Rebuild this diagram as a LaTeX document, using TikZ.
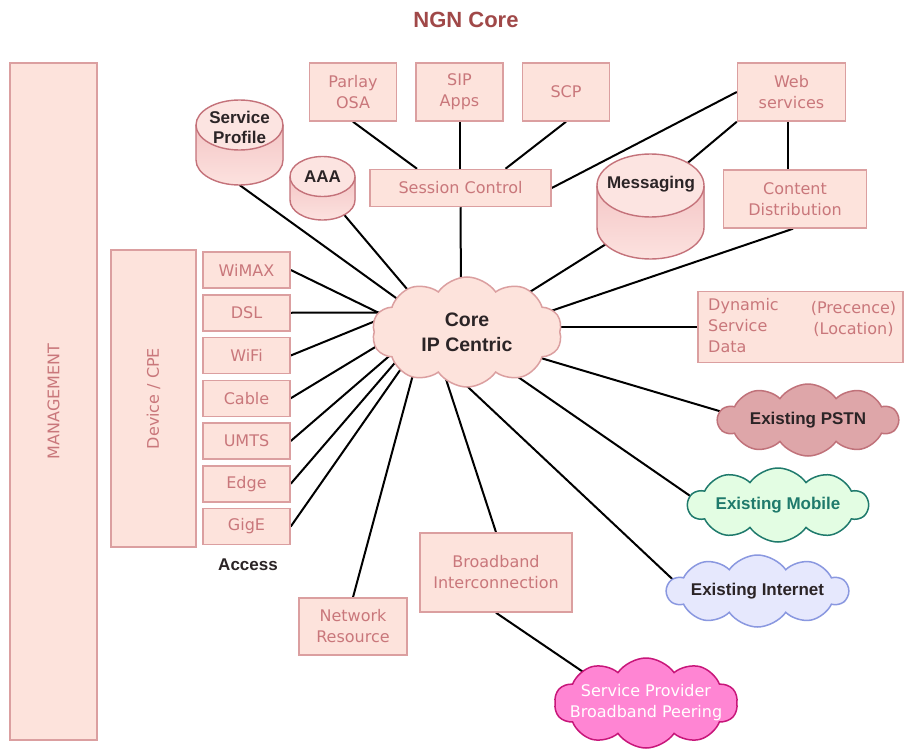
\documentclass[tikz,border=0pt]{standalone}
\usepackage{fontspec}
\setmainfont{Liberation Sans}
\newfontfamily\dvfont{DejaVu Sans}
\usetikzlibrary{shapes.symbols,calc}
\definecolor{boxfill}{HTML}{FDE3DC}
\definecolor{boxline}{HTML}{DB9FA0}
\definecolor{boxtext}{HTML}{C9777B}
\definecolor{titlecol}{HTML}{A04848}
\definecolor{cylline}{HTML}{C4727A}
\definecolor{cyltop}{HTML}{FCE4E1}
\definecolor{cylbodyA}{HTML}{F4C6C6}
\definecolor{cylbodyB}{HTML}{FCE2DF}
\definecolor{pstnfill}{HTML}{DEA6A9}
\definecolor{pstnline}{HTML}{C0727A}
\definecolor{mobfill}{HTML}{E3FDE3}
\definecolor{mobline}{HTML}{1F7A6C}
\definecolor{inetfill}{HTML}{E6E8FD}
\definecolor{inetline}{HTML}{8A98E0}
\definecolor{sppfill}{HTML}{FF85D3}
\definecolor{sppline}{HTML}{C8167A}
\definecolor{darktext}{HTML}{2B2426}
\pgfdeclarelayer{paper}
\pgfdeclarelayer{lines}
\pgfsetlayers{paper,lines,main}
\tikzset{
  box/.style={draw=boxline, fill=boxfill, line width=1.5pt, inner sep=0pt,
    font={\dvfont\fontsize{16}{21}\selectfont}, text=boxtext, align=center},
  btxt/.style={font={\dvfont\fontsize{16}{21}\selectfont}, text=boxtext, inner sep=0pt},
  boldtxt/.style={font={\bfseries\fontsize{17}{20}\selectfont}, inner sep=0pt, align=center},
  conn/.style={draw=black, line width=2pt},
  cloudy/.style={cloud, cloud puffs=10, cloud puff arc=110, cloud ignores aspect,
    inner sep=0pt, line width=1.5pt},
  holder/.style={inner sep=0pt, outer sep=0pt},
  cylfill/.style={top color=cylbodyA, bottom color=cylbodyB},
  cyldraw/.style={draw=cylline, line width=1.4pt},
}
\newcommand{\drumshape}[5]{% cx, ytop, rx, ry, ybottom
  \fill[cylfill] (#1-#3,#2) -- (#1-#3,#5) arc[start angle=180, end angle=0, x radius=#3, y radius=#4] -- (#1+#3,#2) -- cycle;
  \draw[cyldraw] (#1-#3,#2) -- (#1-#3,#5) arc[start angle=180, end angle=0, x radius=#3, y radius=#4] -- (#1+#3,#2);
  \filldraw[cyldraw, fill=cyltop] (#1,#2) ellipse[x radius=#3, y radius=#4];
}
\begin{document}
\begin{tikzpicture}[x=1pt,y=-1pt]
\useasboundingbox (0,0) rectangle (904,749);
\begin{pgfonlayer}{paper}
\fill[white] (0,0) rectangle (904,749);
\end{pgfonlayer}

% title
\node[font={\bfseries\fontsize{22}{26}\selectfont}, text=titlecol, inner sep=0pt] (title) at (466,20) {NGN Core};

% left columns
\node[box, rotate=90, minimum width=677, minimum height=87] (mgmt) at (53.5,401.5) {MANAGEMENT};
\node[box, rotate=90, minimum width=297, minimum height=85] (dev) at (153.5,398.5) {Device / CPE};

% access boxes
\node[box, minimum width=87, minimum height=36] (wimax) at (246.5,270) {WiMAX};
\node[box, minimum width=87, minimum height=36] (dsl) at (246.5,312.75) {DSL};
\node[box, minimum width=87, minimum height=36] (wifi) at (246.5,355.5) {WiFi};
\node[box, minimum width=87, minimum height=36] (cable) at (246.5,398.25) {Cable};
\node[box, minimum width=87, minimum height=36] (umts) at (246.5,441) {UMTS};
\node[box, minimum width=87, minimum height=36] (edge) at (246.5,483.75) {Edge};
\node[box, minimum width=87, minimum height=36] (gige) at (246.5,526.5) {GigE};
\node[boldtxt, text=darktext] (access) at (248,565) {Access};

% top boxes
\node[box, minimum width=87, minimum height=58] (parlay) at (353,92) {Parlay\\OSA};
\node[box, minimum width=87, minimum height=58] (sip) at (459.5,92) {SIP\\Apps};
\node[box, minimum width=87, minimum height=58] (scp) at (566,92) {SCP};
\node[box, minimum width=181, minimum height=37] (session) at (460.5,188) {Session Control};
\node[box, minimum width=108, minimum height=58] (web) at (791.5,92) {Web\\services};
\node[box, minimum width=143, minimum height=58] (content) at (795,199) {Content\\Distribution};

% dynamic service data
\node[box, minimum width=205, minimum height=71] (dsd) at (800.5,327) {};
\node[btxt, align=left, anchor=west] (dsdleft) at (708,326) {Dynamic\\Service\\Data};
\node[btxt, align=center] (dsdright) at (853.5,318.5) {(Precence)\\(Location)};

% bottom boxes
\node[box, minimum width=108, minimum height=57] (netres) at (353,626.5) {Network\\Resource};
\node[box, minimum width=152, minimum height=79] (bbi) at (496,572.5) {Broadband\\Interconnection};

% cylinders
\node[holder, minimum width=87, minimum height=85] (sp) at (239.5,142.5) {};
\drumshape{239.5}{125}{43.5}{25}{160}
\node[boldtxt, text=darktext] (sptext) at (239.5,127) {Service\\Profile};

\node[holder, minimum width=65, minimum height=63.5] (aaa) at (322.5,188.25) {};
\drumshape{322.5}{176.5}{32.5}{20}{200}
\node[boldtxt, text=darktext] (aaatext) at (322.5,177) {AAA};

\node[holder, minimum width=107, minimum height=105] (msg) at (650.5,206.5) {};
\drumshape{650.5}{185.5}{53.5}{31.5}{227.5}
\node[boldtxt, text=darktext] (msgtext) at (651,184) {Messaging};

% clouds
\node[cloudy, draw=boxline, fill=boxfill, minimum width=190, minimum height=110,
  label={[font={\bfseries\fontsize{19.5}{25}\selectfont}, text=darktext, align=center]center:Core\\IP Centric}] (core) at (467,332) {};
\node[cloudy, draw=pstnline, fill=pstnfill, minimum width=180, minimum height=72,
  label={[boldtxt, text=darktext]center:Existing PSTN}] (pstn) at (808,420) {};
\node[cloudy, draw=mobline, fill=mobfill, minimum width=180, minimum height=74,
  label={[boldtxt, text=mobline]center:Existing Mobile}] (mobile) at (778,505) {};
\node[cloudy, draw=inetline, fill=inetfill, minimum width=181, minimum height=72,
  label={[boldtxt, text=darktext]center:Existing Internet}] (inet) at (757.5,591) {};
\node[cloudy, draw=sppline, fill=sppfill, minimum width=183, minimum height=90,
  label={[btxt, text=white, align=center]center:Service Provider\\Broadband Peering}] (spp) at (646,703) {};

% connectors
\begin{pgfonlayer}{lines}
\draw[conn] (sp.south) -- ([shift={(-64,-29)}]core.center);
\draw[conn] ([shift={(21,-6)}]aaa.south) -- ([shift={(-49,-30)}]core.center);
\draw[conn] (session.south) -- ([shift={(-6,-40)}]core.center);
\draw[conn] (parlay.south) -- ([xshift=-43.5]session.north);
\draw[conn] (sip.south) -- (sip.south |- session.north);
\draw[conn] (scp.south) -- ([xshift=45]session.north);
\draw[conn] (web.west) -- (session.east);
\draw[conn] (web.south west) -- ([shift={(33.5,-40.5)}]msg.center);
\draw[conn] ([xshift=-3.5]web.south) -- ([xshift=-3.5]web.south |- content.north);
\draw[conn] ([shift={(-28.5,27.5)}]msg.center) -- ([shift={(50,-32)}]core.center);
\draw[conn] ([xshift=-2]content.south) -- ([shift={(72,-17)}]core.center);
\draw[conn] (dsd.west) -- (dsd.west -| core.center);
\draw[conn] ([shift={(67,24)}]core.center) -- ([shift={(-72,-4)}]pstn.center);
\draw[conn] ([shift={(40.5,37.7)}]core.center) -- ([shift={(-74,0.5)}]mobile.center);
\draw[conn] ([shift={(-14,41)}]core.center) -- ([shift={(-73.5,-1)}]inet.center);
\draw[conn] (bbi.north) -- ([shift={(-26,32)}]core.center);
\draw[conn] (netres.north) -- ([shift={(-51,31.5)}]core.center);
\draw[conn] (bbi.south) -- ([shift={(-51,-23)}]spp.center);
\draw[conn] (wimax.east) -- ([shift={(-71.5,-11)}]core.center);
\draw[conn] (dsl.east) -- ([shift={(-69,-19.5)}]core.center);
\draw[conn] (wifi.east) -- ([shift={(-71,-19.4)}]core.center);
\draw[conn] (cable.east) -- ([shift={(-70.6,2.2)}]core.center);
\draw[conn] (umts.east) -- ([shift={(-60,8.7)}]core.center);
\draw[conn] (edge.east) -- ([shift={(-57.6,14)}]core.center);
\draw[conn] (gige.east) -- ([shift={(-54.6,20.5)}]core.center);
\end{pgfonlayer}
\end{tikzpicture}
\end{document}
